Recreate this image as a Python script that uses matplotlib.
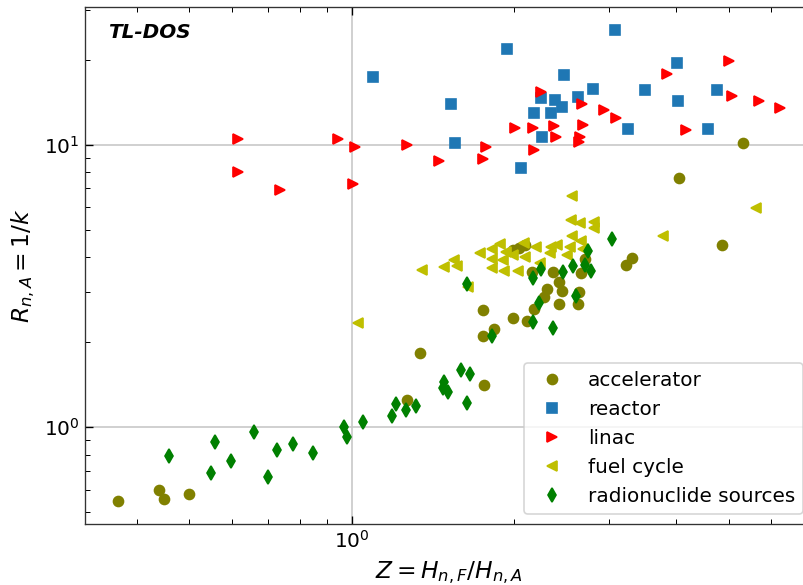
import matplotlib
matplotlib.use("Agg")
import matplotlib.pyplot as plt

# ---------------- data ----------------
acc_x = [0.3685, 0.4384, 0.4479, 0.4983, 1.267, 1.339, 1.754, 1.754, 1.756, 1.837,
         1.989, 2.114, 2.178, 2.268, 2.298, 2.424, 2.427, 2.458, 2.626, 2.638,
         2.158, 2.366, 2.664, 2.713, 1.989, 2.046, 2.097, 3.228, 3.307, 4.054,
         4.864, 5.309]
acc_y = [0.548, 0.599, 0.558, 0.579, 1.249, 1.827, 2.601, 2.104, 1.417, 2.222,
         2.443, 2.377, 2.626, 2.891, 3.098, 2.724, 3.254, 3.035, 2.724, 3.023,
         3.530, 3.536, 3.524, 3.931, 4.241, 4.300, 4.417, 3.737, 3.963, 7.625,
         4.417, 10.14]

rea_x = [1.097, 1.530, 1.557, 1.939, 2.064, 2.182, 2.245, 2.258, 2.346, 2.387,
         2.459, 2.480, 2.633, 2.804, 3.084, 3.260, 3.505, 4.019, 4.036, 4.587,
         4.768]
rea_y = [17.32, 13.90, 10.12, 21.76, 8.25, 12.91, 14.59, 10.62, 12.91, 14.39,
         13.56, 17.60, 14.72, 15.70, 25.40, 11.34, 15.57, 19.41, 14.24, 11.34,
         15.57]

lin_x = [0.616, 0.616, 0.736, 0.944, 1.014, 1.004, 1.265, 1.454, 1.775, 1.754,
         2.012, 2.173, 2.182, 2.242, 2.376, 2.390, 2.672, 2.684, 2.653, 2.638,
         2.938, 3.089, 3.840, 4.171, 5.018, 5.076, 5.697, 6.225]
lin_y = [10.45, 8.03, 6.90, 10.48, 9.84, 7.24, 9.95, 8.76, 9.84, 8.90,
         11.43, 11.43, 9.60, 15.40, 11.65, 10.62, 13.93, 11.74, 10.67, 10.22,
         13.27, 12.46, 17.75, 11.24, 19.78, 14.91, 14.28, 13.45]

fuel_x = [1.029, 1.349, 1.480, 1.550, 1.566, 1.643, 1.730, 1.823, 1.884, 1.823,
          1.911, 1.821, 1.919, 1.929, 1.989, 2.032, 2.087, 2.100, 2.193, 2.233,
          2.343, 2.333, 2.401, 2.509, 2.541, 2.560, 2.550, 2.566, 2.656, 2.661,
          2.681, 2.808, 2.817, 3.776, 5.617]
fuel_y = [2.345, 3.603, 3.683, 3.908, 3.722, 3.136, 4.138, 4.285, 4.442, 3.940,
          3.924, 3.671, 3.565, 4.162, 4.071, 3.574, 4.507, 3.989, 4.356, 3.805,
          4.356, 4.128, 4.399, 4.071, 4.356, 6.600, 5.414, 4.764, 5.271, 4.563,
          4.281, 5.305, 5.085, 4.745, 5.970]

rad_x = [0.4587, 0.5482, 0.5583, 0.5978, 0.6578, 0.6984, 0.7277, 0.7783, 0.8466, 0.9668,
         0.9789, 1.048, 1.188, 1.208, 1.259, 1.318, 1.485, 1.477, 1.507, 1.597,
         1.658, 1.638, 1.638, 1.819, 2.167, 2.366, 2.229, 2.610, 2.167, 2.247,
         2.470, 2.577, 2.709, 2.777, 2.748, 3.038]
rad_y = [0.7897, 0.6892, 0.8871, 0.7599, 0.9601, 0.6686, 0.8292, 0.8706, 0.8091, 1.002,
         0.9262, 1.048, 1.096, 1.209, 1.156, 1.194, 1.443, 1.383, 1.328, 1.589,
         1.550, 1.221, 3.222, 2.104, 2.358, 2.240, 2.760, 2.915, 3.383, 3.627,
         3.544, 3.728, 3.761, 3.582, 4.217, 4.627]

labels = ["accelerator", "reactor", "linac", "fuel cycle", "radionuclide sources"]

# ---------------- figure ----------------
DPI = 120
fig = plt.figure(figsize=(803 / DPI, 585 / DPI), dpi=DPI)
ax = fig.add_axes([0.10585, 0.10376, 0.9066, 0.88479])

ax.plot(acc_x, acc_y, "o", color="olive", ms=6, ls="none", label=labels[0])
ax.plot(rea_x, rea_y, "s", color="tab:blue", ms=6, ls="none", label=labels[1])
ax.plot(lin_x, lin_y, ">", color="red", ms=6, ls="none", label=labels[2])
ax.plot(fuel_x, fuel_y, "<", color="y", ms=6, ls="none", label=labels[3])
ax.plot(rad_x, rad_y, "d", color="green", ms=6, ls="none", label=labels[4])

ax.set_xscale("log")
ax.set_yscale("log")
ax.set_xlim(0.32, 7.17)
ax.set_ylim(0.4537, 30.78)

ax.grid(True, which="major", color="#c8c8c8", linewidth=1.0)
ax.set_axisbelow(True)
ax.tick_params(which="both", direction="in", top=True, right=True, labelsize=12)
ax.tick_params(which="major", length=5)
ax.tick_params(which="minor", length=3)
for s in ax.spines.values():
    s.set_color("#333333")

ax.set_xlabel(r"$Z = H_{n,F}/H_{n,A}$", fontsize=14)
ax.set_ylabel(r"$R_{n,A} = 1/k$", fontsize=14)

ax.text(0.032, 0.951, "TL-DOS", transform=ax.transAxes, fontsize=12,
        fontweight="bold", fontstyle="italic", va="center", ha="left")

ax.legend(loc="lower right", fontsize=12)

fig.savefig("out.png", dpi=DPI)
